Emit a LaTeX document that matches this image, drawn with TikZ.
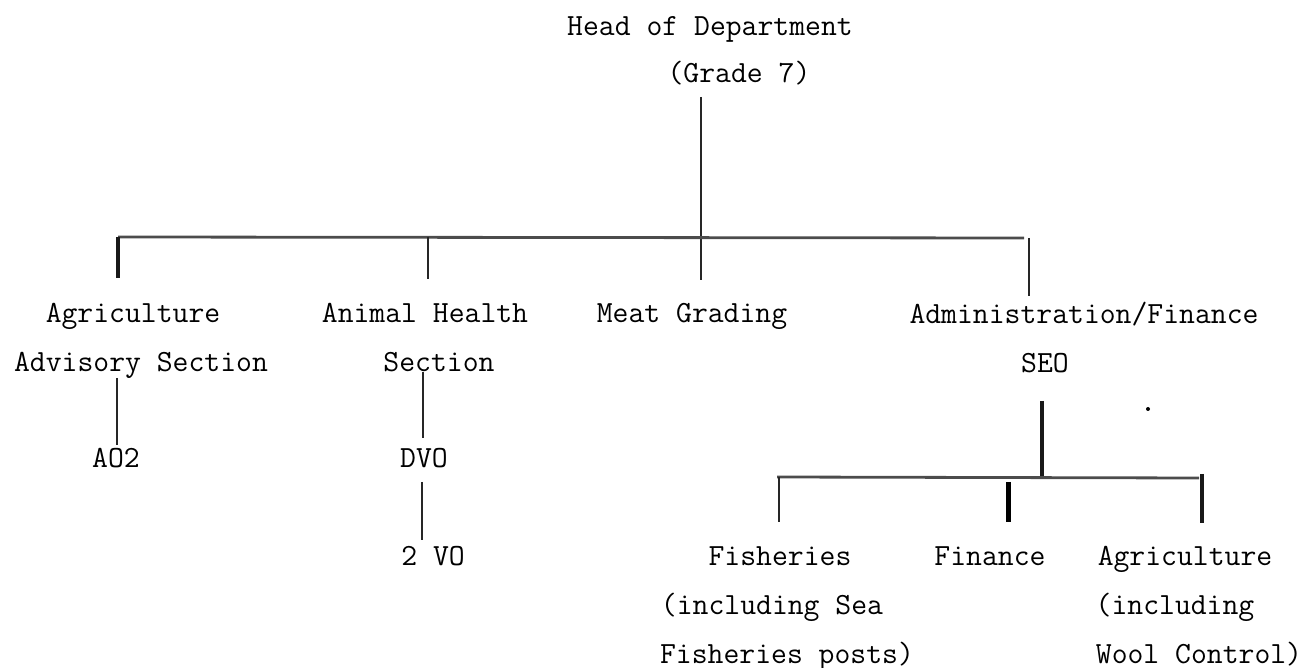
\documentclass[tikz,border=0pt]{standalone}
\usepackage{fontspec}
\begin{document}
\begin{tikzpicture}[x=0.5pt,y=-0.5pt,
  lbl/.style={font=\ttfamily\fontsize{15.4}{18}\selectfont, inner sep=0pt, anchor=base},
  tie/.style={line width=1pt, black!85},
  heavy/.style={line width=2pt, black!90},
  bar/.style={line width=1.4pt, black!70}]
\useasboundingbox (0,0) rectangle (1303,668);

% labels
\node[lbl] (head)   at (710,36)   {Head of Department};
\node[lbl] (grade)  at (739,83)   {(Grade 7)};
\node[lbl] (agri1)  at (133,323)  {Agriculture};
\node[lbl] (agri2)  at (141,372)  {Advisory Section};
\node[lbl] (anim1)  at (425,323)  {Animal Health};
\node[lbl] (anim2)  at (439,372)  {Section};
\node[lbl] (meat)   at (692,323)  {Meat Grading};
\node[lbl] (admin)  at (1084,324) {Administration/Finance};
\node[lbl] (seo)    at (1045,373) {SEO};
\node[lbl] (ao2)    at (116,468)  {AO2};
\node[lbl] (dvo)    at (424,468)  {DVO};
\node[lbl] (vo)     at (433,566)  {2 VO};
\node[lbl] (fish1)  at (780,566)  {Fisheries};
\node[lbl] (fish2)  at (772,615)  {(including Sea};
\node[lbl] (fish3)  at (787,663)  {Fisheries posts)};
\node[lbl] (fin)    at (990,566)  {Finance};
\node[lbl] (agr1)   at (1185,566) {Agriculture};
\node[lbl] (agr2)   at (1175,615) {(including};
\node[lbl] (agr3)   at (1199,663) {Wool Control)};

% junction points
\coordinate (hdtop)  at (701,97);
\coordinate (mgtop)  at (701,280);
\coordinate (barL)   at (118,237);
\coordinate (barR)   at (1024,238);
\coordinate (agtop)  at (118,278);
\coordinate (anj)    at (428,237);
\coordinate (antop)  at (428,279);
\coordinate (adj)    at (1029,238);
\coordinate (adtop)  at (1029,296);
\coordinate (aoA)    at (117,378);
\coordinate (aoB)    at (117,445);
\coordinate (dvA)    at (423,372);
\coordinate (dvB)    at (423,438);
\coordinate (voA)    at (422,482);
\coordinate (voB)    at (422,540);
\coordinate (seoA)   at (1042,401);
\coordinate (seoB)   at (1042,477);
\coordinate (subL)   at (777,477);
\coordinate (subR)   at (1199,478);
\coordinate (fiA)    at (779,477);
\coordinate (fiB)    at (779,522);
\coordinate (fnA)    at (1008,482);
\coordinate (fnB)    at (1008,522);
\coordinate (agA)    at (1202,474);
\coordinate (agB)    at (1202,523);

% top level
\draw[tie] (hdtop) -- (mgtop);
\draw[bar] (barL) -- (barR);
\draw[heavy] (barL) -- (agtop);
\draw[tie] (anj) -- (antop);
\draw[tie] (adj) -- (adtop);

% sections
\draw[tie] (aoA) -- (aoB);
\draw[tie] (dvA) -- (dvB);
\draw[tie] (voA) -- (voB);

% administration branch
\draw[heavy] (seoA) -- (seoB);
\draw[bar] (subL) -- (subR);
\draw[tie] (fiA) -- (fiB);
\draw[line width=2.5pt] (fnA) -- (fnB);
\draw[heavy] (agA) -- (agB);
\fill (1148,409) circle (1pt);
\end{tikzpicture}
\end{document}
